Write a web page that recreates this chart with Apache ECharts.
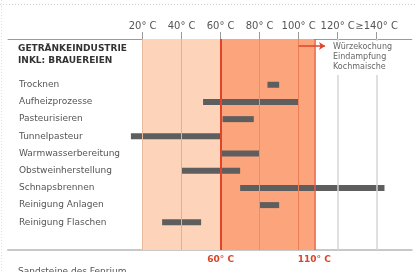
<!DOCTYPE html>
<html>
<head>
<meta charset="utf-8">
<script src="https://cdn.jsdelivr.net/npm/echarts@6/dist/echarts.min.js"></script>
<style>
  html, body { margin: 0; padding: 0; background: #fff; }
  #chart { width: 416px; height: 272px; }
</style>
</head>
<body>
<div id="chart"></div>
<script>
// Prozesse und Temperaturbereiche (°C)
const rows = ['Trocknen', 'Aufheizprozesse', 'Pasteurisieren', 'Tunnelpasteur', 'Warmwasserbereitung',
  'Obstweinherstellung', 'Schnapsbrennen', 'Reinigung Anlagen', 'Reinigung Flaschen']
const starts = [84, 51, 61, 14, 60, 40, 70, 80, 30]
const ends = [90, 100, 77, 60, 80, 70, 144, 90, 50]

const tickValues = [20, 40, 60, 80, 100, 120, 140]
const tickLabels = ['20° C', '40° C', '60° C', '80° C', '100° C', '120° C', '≥140° C']
const zoneLow = [20, 60]
const zoneHigh = [60, 108]
const zoneValues = [60, 108]
const zoneLabels = ['60° C', '110° C']
const noteLines = ['Würzekochung', 'Eindampfung', 'Kochmaische']

const font = 'DejaVu Sans'
const data = rows.map((r, i) => [starts[i], ends[i], i])

const chart = echarts.init(document.getElementById('chart'))

let option = {
  animation: false,
  textStyle: { fontFamily: font },
  title: {
    text: 'GETRÄNKEINDUSTRIE\nINKL: BRAUEREIEN',
    left: 18,
    top: 43,
    padding: 0,
    textStyle: { fontFamily: font, fontSize: 9, fontWeight: 'bold', color: '#333', lineHeight: 12 }
  },
  grid: { left: 8, right: 4.2, top: 39, bottom: 22 },
  xAxis: [
    {
      type: 'value',
      position: 'top',
      min: -49,
      max: 158,
      axisLine: { show: true, onZero: false, lineStyle: { color: '#9a9a9a', width: 1 } },
      axisTick: { show: true, customValues: tickValues, length: 7, lineStyle: { color: '#9a9a9a' } },
      axisLabel: {
        customValues: tickValues,
        margin: 8,
        fontSize: 10,
        color: '#555',
        formatter: v => tickLabels[tickValues.indexOf(v)]
      },
      splitLine: { show: false }
    },
    {
      type: 'value',
      position: 'bottom',
      min: -49,
      max: 158,
      axisLine: { show: true, onZero: false, lineStyle: { color: '#c8c8c8', width: 2 } },
      axisTick: { show: false },
      axisLabel: {
        customValues: zoneValues,
        margin: 5,
        fontSize: 9,
        fontWeight: 'bold',
        color: '#d9452a',
        formatter: v => zoneLabels[zoneValues.indexOf(v)]
      },
      splitLine: { show: false }
    }
  ],
  yAxis: {
    type: 'value',
    inverse: true,
    min: -2.66,
    max: 9.61,
    axisLine: { show: false },
    axisTick: { show: false },
    splitLine: { show: false },
    axisLabel: {
      inside: true,
      margin: 11,
      fontSize: 9,
      color: '#555',
      customValues: rows.map((r, i) => i),
      formatter: v => rows[v]
    }
  },
  graphic: [
    { type: 'line', shape: { x1: 0, y1: 4.5, x2: 416, y2: 4.5 }, style: { stroke: '#d0d0d0', lineDash: [1, 2] } },
    { type: 'line', shape: { x1: 1.5, y1: 0, x2: 1.5, y2: 272 }, style: { stroke: '#e0e0e0', lineDash: [1, 2] } },
    {
      type: 'text', left: 330, top: 41, z: 10,
      style: {
        text: noteLines.join('\n'), font: '8px ' + font, fill: '#666', lineHeight: 10,
        backgroundColor: '#fff', padding: [1, 3, 3, 3]
      }
    },
    {
      type: 'text', left: 18, top: 267,
      style: { text: 'Sandsteine des Fenrium', font: '9px ' + font, fill: '#555' }
    }
  ],
  series: [
    {
      type: 'line',
      data: [],
      z: 1,
      silent: true,
      markArea: {
        silent: true,
        data: [
          [{ xAxis: zoneLow[0], itemStyle: { color: '#fdd3ba' } }, { xAxis: zoneLow[1] }],
          [{ xAxis: zoneHigh[0], itemStyle: { color: '#fca57c' } }, { xAxis: zoneHigh[1] }]
        ]
      }
    },
    {
      type: 'line',
      data: [],
      z: 2,
      silent: true,
      markLine: {
        silent: true,
        symbol: 'none',
        label: { show: false },
        data: [
          { xAxis: 20, lineStyle: { color: '#e9b99e', width: 1, type: 'solid' } },
          { xAxis: 40, lineStyle: { color: '#e6ad90', width: 1, type: 'solid' } },
          { xAxis: 80, lineStyle: { color: '#ee8c64', width: 1, type: 'solid' } },
          { xAxis: 100, lineStyle: { color: '#ec7f55', width: 1, type: 'solid' } },
          { xAxis: 120, lineStyle: { color: '#d6d6d6', width: 1.5, type: 'solid' } },
          { xAxis: 140, lineStyle: { color: '#d6d6d6', width: 1.5, type: 'solid' } },
          { xAxis: zoneValues[0], lineStyle: { color: '#e0452a', width: 2, type: 'solid' } },
          { xAxis: zoneValues[1], lineStyle: { color: '#e85a38', width: 1.5, type: 'solid' } }
        ]
      }
    },
    {
      type: 'line',
      data: [],
      z: 3,
      silent: true,
      markLine: {
        silent: true,
        symbol: ['none', 'arrow'],
        symbolSize: [6, 6],
        label: { show: false },
        lineStyle: { color: '#e0452a', width: 1.5, type: 'solid' },
        data: [[{ coord: [100, -2.25] }, { coord: [113.5, -2.25] }]]
      }
    },
    {
      type: 'custom',
      z: 4,
      data: data,
      encode: { x: [0, 1], y: 2 },
      renderItem: (params, api) => {
        const y = api.value(2)
        const p0 = api.coord([api.value(0), y])
        const p1 = api.coord([api.value(1), y])
        const h = 6
        return {
          type: 'rect',
          shape: { x: p0[0], y: p0[1] - h / 2, width: p1[0] - p0[0], height: h },
          style: { fill: '#5e5e5e' }
        }
      }
    }
  ]
}

chart.setOption(option)
</script>
</body>
</html>
